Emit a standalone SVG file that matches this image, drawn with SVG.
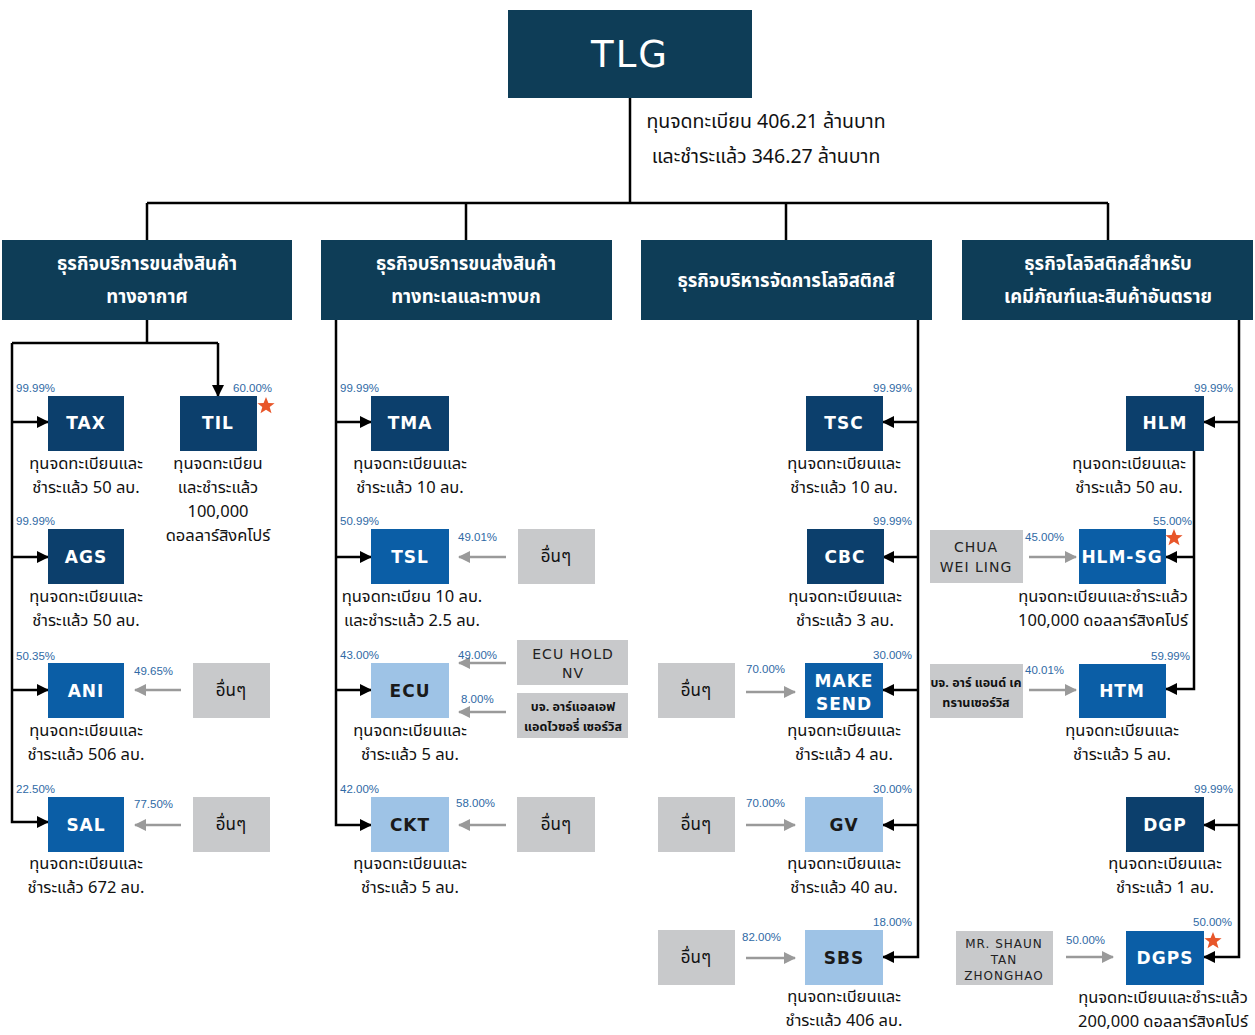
<svg xmlns="http://www.w3.org/2000/svg" width="1255" height="1035" viewBox="0 0 1255 1035">
<defs>
<style>
.hdr{fill:#0e3d57}
.dk{fill:#0c3f6c}
.md{fill:#0b5ea6}
.lt{fill:#9ec3e6}
.gy{fill:#c8c9cb}
.ln{stroke:#000;stroke-width:2.5;fill:none}
.gl{stroke:#9a9a9a;stroke-width:2.5;fill:none}
.th{font-family:"Noto Sans Thai","Noto Sans","Liberation Sans",sans-serif;font-size:16.5px;fill:#111;text-anchor:middle}
.top{font-size:19.5px}
.cat{font-family:"Noto Sans Thai","Noto Sans","Liberation Sans",sans-serif;font-size:18.5px;font-weight:bold;fill:#fff;text-anchor:middle}
.nw{font-family:"DejaVu Sans","Liberation Sans",sans-serif;font-size:17px;font-weight:bold;fill:#fff;text-anchor:middle;letter-spacing:1px}
.nb{font-family:"DejaVu Sans","Liberation Sans",sans-serif;font-size:17px;font-weight:bold;fill:#1a1a1a;text-anchor:middle;letter-spacing:1px}
.pc{font-family:"Liberation Sans",sans-serif;font-size:11.5px;fill:#2f6aa5}
.pr{font-family:"Liberation Sans",sans-serif;font-size:11.5px;fill:#2f6aa5;text-anchor:end}
.ot{font-family:"Noto Sans Thai","Noto Sans","Liberation Sans",sans-serif;font-size:17px;fill:#111;text-anchor:middle}
.gb{font-family:"Noto Sans Thai","Noto Sans","Liberation Sans",sans-serif;font-size:12.5px;font-weight:bold;fill:#111;text-anchor:middle}
.ge{font-family:"DejaVu Sans","Liberation Sans",sans-serif;font-size:14px;fill:#222;text-anchor:middle;letter-spacing:1px}
.gs{font-family:"DejaVu Sans","Liberation Sans",sans-serif;font-size:12px;fill:#222;text-anchor:middle;letter-spacing:1px}
.star{fill:#e8562a}
</style>
<marker id="ab" markerWidth="12" markerHeight="12" refX="11" refY="6" orient="auto" markerUnits="userSpaceOnUse" viewBox="0 0 12 12">
<path d="M0,0 L12,6 L0,12 z" fill="#000"/>
</marker>
<marker id="ag" markerWidth="12" markerHeight="12" refX="11" refY="6" orient="auto" markerUnits="userSpaceOnUse" viewBox="0 0 12 12">
<path d="M0,0 L12,6 L0,12 z" fill="#9a9a9a"/>
</marker>
<polygon id="st" points="0,-9 2.4,-2.9 8.6,-2.8 3.7,1.1 5.5,7.3 0,3.7 -5.5,7.3 -3.7,1.1 -8.6,-2.8 -2.4,-2.9"/>
</defs>
<rect width="1255" height="1035" fill="#fff"/>

<g id="connectors">
<path class="ln" d="M630,98 V203 M147,203 H1108 M147,203 V240 M466,203 V240 M786,203 V240 M1108,203 V240"/>
<path class="ln" d="M147,320 V343 M12,343 H218"/>
<path class="ln" d="M218,343 V396" marker-end="url(#ab)"/>
<path class="ln" d="M12,343 V822 H48" marker-end="url(#ab)"/>
<path class="ln" d="M12,422 H48" marker-end="url(#ab)"/>
<path class="ln" d="M12,557 H48" marker-end="url(#ab)"/>
<path class="ln" d="M12,690 H48" marker-end="url(#ab)"/>
<path class="gl" d="M181,690 H135" marker-end="url(#ag)"/>
<path class="gl" d="M181,825 H135" marker-end="url(#ag)"/>
<path class="ln" d="M336,320 V825 H371" marker-end="url(#ab)"/>
<path class="ln" d="M336,422 H371" marker-end="url(#ab)"/>
<path class="ln" d="M336,557 H371" marker-end="url(#ab)"/>
<path class="ln" d="M336,690 H371" marker-end="url(#ab)"/>
<path class="gl" d="M506,557 H459" marker-end="url(#ag)"/>
<path class="gl" d="M506,663 H459" marker-end="url(#ag)"/>
<path class="gl" d="M506,712 H459" marker-end="url(#ag)"/>
<path class="gl" d="M506,825 H459" marker-end="url(#ag)"/>
<path class="ln" d="M918,320 V957 H883" marker-end="url(#ab)"/>
<path class="ln" d="M918,422 H883" marker-end="url(#ab)"/>
<path class="ln" d="M918,557 H883" marker-end="url(#ab)"/>
<path class="ln" d="M918,690 H883" marker-end="url(#ab)"/>
<path class="ln" d="M918,825 H883" marker-end="url(#ab)"/>
<path class="gl" d="M746,692 H795" marker-end="url(#ag)"/>
<path class="gl" d="M746,825 H795" marker-end="url(#ag)"/>
<path class="gl" d="M746,958 H795" marker-end="url(#ag)"/>
<path class="ln" d="M1239,320 V957 H1204" marker-end="url(#ab)"/>
<path class="ln" d="M1239,422 H1204" marker-end="url(#ab)"/>
<path class="ln" d="M1239,825 H1204" marker-end="url(#ab)"/>
<path class="ln" d="M1194,451 V689 H1166" marker-end="url(#ab)"/>
<path class="ln" d="M1194,557 H1166" marker-end="url(#ab)"/>
<path class="gl" d="M1029,557 H1076" marker-end="url(#ag)"/>
<path class="gl" d="M1029,690 H1076" marker-end="url(#ag)"/>
<path class="gl" d="M1066,957 H1113" marker-end="url(#ag)"/>
</g>

<g id="TLG">
<rect class="hdr" x="508" y="10" width="244" height="88"/>
<text x="630" y="67" font-family="DejaVu Sans,Liberation Sans,sans-serif" font-size="37" fill="#fff" text-anchor="middle" letter-spacing="2">TLG</text>
<text class="th top" x="766" y="128">ทุนจดทะเบียน 406.21 ล้านบาท</text>
<text class="th top" x="766" y="163">และชำระแล้ว 346.27 ล้านบาท</text>
</g>

<g id="cat1"><rect class="hdr" x="2" y="240" width="290" height="80"/>
<text class="cat" x="147" y="270">ธุรกิจบริการขนส่งสินค้า</text><text class="cat" x="147" y="303">ทางอากาศ</text></g>
<g id="cat2"><rect class="hdr" x="321" y="240" width="291" height="80"/>
<text class="cat" x="466" y="270">ธุรกิจบริการขนส่งสินค้า</text><text class="cat" x="466" y="303">ทางทะเลและทางบก</text></g>
<g id="cat3"><rect class="hdr" x="641" y="240" width="291" height="80"/>
<text class="cat" x="786" y="287">ธุรกิจบริหารจัดการโลจิสติกส์</text></g>
<g id="cat4"><rect class="hdr" x="962" y="240" width="291" height="80"/>
<text class="cat" x="1108" y="270">ธุรกิจโลจิสติกส์สำหรับ</text><text class="cat" x="1108" y="303">เคมีภัณฑ์และสินค้าอันตราย</text></g>

<g id="TAX"><rect class="dk" x="48" y="396" width="76" height="55"/><text class="nw" x="86" y="429">TAX</text>
<text class="pc" x="16" y="392">99.99%</text>
<text class="th" x="86" y="469">ทุนจดทะเบียนและ</text><text class="th" x="86" y="493">ชำระแล้ว 50 ลบ.</text></g>
<g id="TIL"><rect class="dk" x="180" y="396" width="77" height="55"/><text class="nw" x="218" y="429">TIL</text>
<text class="pc" x="233" y="392">60.00%</text><use href="#st" class="star" x="266" y="406"/>
<text class="th" x="218" y="469">ทุนจดทะเบียน</text><text class="th" x="218" y="493">และชำระแล้ว</text>
<text class="th" x="218" y="517">100,000</text><text class="th" x="218" y="541">ดอลลาร์สิงคโปร์</text></g>
<g id="AGS"><rect class="dk" x="48" y="529" width="76" height="55"/><text class="nw" x="86" y="563">AGS</text>
<text class="pc" x="16" y="525">99.99%</text>
<text class="th" x="86" y="602">ทุนจดทะเบียนและ</text><text class="th" x="86" y="626">ชำระแล้ว 50 ลบ.</text></g>
<g id="ANI"><rect class="md" x="48" y="663" width="76" height="55"/><text class="nw" x="86" y="697">ANI</text>
<text class="pc" x="16" y="660">50.35%</text>
<text class="th" x="86" y="736">ทุนจดทะเบียนและ</text><text class="th" x="86" y="760">ชำระแล้ว 506 ลบ.</text></g>
<g id="ANI-other"><rect class="gy" x="193" y="663" width="77" height="55"/><text class="ot" x="231" y="696">อื่นๆ</text>
<text class="pc" x="134" y="675">49.65%</text></g>
<g id="SAL"><rect class="md" x="48" y="797" width="76" height="55"/><text class="nw" x="86" y="831">SAL</text>
<text class="pc" x="16" y="793">22.50%</text>
<text class="th" x="86" y="869">ทุนจดทะเบียนและ</text><text class="th" x="86" y="893">ชำระแล้ว 672 ลบ.</text></g>
<g id="SAL-other"><rect class="gy" x="193" y="797" width="77" height="55"/><text class="ot" x="231" y="830">อื่นๆ</text>
<text class="pc" x="134" y="808">77.50%</text></g>

<g id="TMA"><rect class="dk" x="371" y="396" width="78" height="55"/><text class="nw" x="410" y="429">TMA</text>
<text class="pc" x="340" y="392">99.99%</text>
<text class="th" x="410" y="469">ทุนจดทะเบียนและ</text><text class="th" x="410" y="493">ชำระแล้ว 10 ลบ.</text></g>
<g id="TSL"><rect class="md" x="371" y="529" width="78" height="55"/><text class="nw" x="410" y="563">TSL</text>
<text class="pc" x="340" y="525">50.99%</text>
<text class="th" x="412" y="602">ทุนจดทะเบียน 10 ลบ.</text><text class="th" x="412" y="626">และชำระแล้ว 2.5 ลบ.</text></g>
<g id="TSL-other"><rect class="gy" x="518" y="529" width="77" height="55"/><text class="ot" x="556" y="562">อื่นๆ</text>
<text class="pc" x="458" y="541">49.01%</text></g>
<g id="ECU"><rect class="lt" x="371" y="663" width="78" height="55"/><text class="nb" x="410" y="697">ECU</text>
<text class="pc" x="340" y="659">43.00%</text>
<text class="th" x="410" y="736">ทุนจดทะเบียนและ</text><text class="th" x="410" y="760">ชำระแล้ว 5 ลบ.</text></g>
<g id="ECU-HOLD"><rect class="gy" x="517" y="640" width="111" height="45"/>
<text class="ge" x="573" y="659">ECU HOLD</text><text class="ge" x="573" y="678">NV</text>
<text class="pc" x="458" y="659">49.00%</text></g>
<g id="RLF"><rect class="gy" x="517" y="693" width="111" height="45"/>
<text class="gb" x="573" y="711">บจ. อาร์แอลเอฟ</text><text class="gb" x="573" y="731">แอดไวซอรี่ เซอร์วิส</text>
<text class="pc" x="461" y="703">8.00%</text></g>
<g id="CKT"><rect class="lt" x="371" y="797" width="78" height="55"/><text class="nb" x="410" y="831">CKT</text>
<text class="pc" x="340" y="793">42.00%</text>
<text class="th" x="410" y="869">ทุนจดทะเบียนและ</text><text class="th" x="410" y="893">ชำระแล้ว 5 ลบ.</text></g>
<g id="CKT-other"><rect class="gy" x="517" y="797" width="78" height="55"/><text class="ot" x="556" y="830">อื่นๆ</text>
<text class="pc" x="456" y="807">58.00%</text></g>

<g id="TSC"><rect class="dk" x="806" y="396" width="77" height="55"/><text class="nw" x="844" y="429">TSC</text>
<text class="pr" x="912" y="392">99.99%</text>
<text class="th" x="844" y="469">ทุนจดทะเบียนและ</text><text class="th" x="844" y="493">ชำระแล้ว 10 ลบ.</text></g>
<g id="CBC"><rect class="dk" x="807" y="529" width="77" height="55"/><text class="nw" x="845" y="563">CBC</text>
<text class="pr" x="912" y="525">99.99%</text>
<text class="th" x="845" y="602">ทุนจดทะเบียนและ</text><text class="th" x="845" y="626">ชำระแล้ว 3 ลบ.</text></g>
<g id="MAKESEND"><rect class="md" x="805" y="663" width="78" height="55"/>
<text class="nw" x="844" y="687">MAKE</text><text class="nw" x="844" y="710">SEND</text>
<text class="pr" x="912" y="659">30.00%</text>
<text class="th" x="844" y="736">ทุนจดทะเบียนและ</text><text class="th" x="844" y="760">ชำระแล้ว 4 ลบ.</text></g>
<g id="MAKESEND-other"><rect class="gy" x="658" y="663" width="77" height="55"/><text class="ot" x="696" y="696">อื่นๆ</text>
<text class="pc" x="746" y="673">70.00%</text></g>
<g id="GV"><rect class="lt" x="805" y="797" width="78" height="55"/><text class="nb" x="844" y="831">GV</text>
<text class="pr" x="912" y="793">30.00%</text>
<text class="th" x="844" y="869">ทุนจดทะเบียนและ</text><text class="th" x="844" y="893">ชำระแล้ว 40 ลบ.</text></g>
<g id="GV-other"><rect class="gy" x="658" y="797" width="77" height="55"/><text class="ot" x="696" y="830">อื่นๆ</text>
<text class="pc" x="746" y="807">70.00%</text></g>
<g id="SBS"><rect class="lt" x="805" y="930" width="78" height="55"/><text class="nb" x="844" y="964">SBS</text>
<text class="pr" x="912" y="926">18.00%</text>
<text class="th" x="844" y="1002">ทุนจดทะเบียนและ</text><text class="th" x="844" y="1026">ชำระแล้ว 406 ลบ.</text></g>
<g id="SBS-other"><rect class="gy" x="658" y="930" width="77" height="55"/><text class="ot" x="696" y="963">อื่นๆ</text>
<text class="pc" x="742" y="941">82.00%</text></g>

<g id="HLM"><rect class="dk" x="1126" y="396" width="78" height="55"/><text class="nw" x="1165" y="429">HLM</text>
<text class="pr" x="1233" y="392">99.99%</text>
<text class="th" x="1129" y="469">ทุนจดทะเบียนและ</text><text class="th" x="1129" y="493">ชำระแล้ว 50 ลบ.</text></g>
<g id="HLM-SG"><rect class="md" x="1079" y="529" width="87" height="55"/><text class="nw" x="1122" y="563">HLM-SG</text>
<text class="pr" x="1192" y="525">55.00%</text><use href="#st" class="star" x="1174" y="538"/>
<text class="th" x="1103" y="602">ทุนจดทะเบียนและชำระแล้ว</text><text class="th" x="1103" y="626">100,000 ดอลลาร์สิงคโปร์</text></g>
<g id="CHUA"><rect class="gy" x="930" y="530" width="93" height="53"/>
<text class="ge" x="976" y="552">CHUA</text><text class="ge" x="976" y="572">WEI LING</text>
<text class="pc" x="1025" y="541">45.00%</text></g>
<g id="HTM"><rect class="md" x="1079" y="664" width="87" height="54"/><text class="nw" x="1122" y="697">HTM</text>
<text class="pr" x="1190" y="660">59.99%</text>
<text class="th" x="1122" y="736">ทุนจดทะเบียนและ</text><text class="th" x="1122" y="760">ชำระแล้ว 5 ลบ.</text></g>
<g id="RK"><rect class="gy" x="930" y="664" width="93" height="54"/>
<text class="gb" x="976" y="687">บจ. อาร์ แอนด์ เค</text><text class="gb" x="976" y="707">ทรานเซอร์วิส</text>
<text class="pc" x="1025" y="674">40.01%</text></g>
<g id="DGP"><rect class="dk" x="1126" y="797" width="78" height="55"/><text class="nw" x="1165" y="831">DGP</text>
<text class="pr" x="1233" y="793">99.99%</text>
<text class="th" x="1165" y="869">ทุนจดทะเบียนและ</text><text class="th" x="1165" y="893">ชำระแล้ว 1 ลบ.</text></g>
<g id="DGPS"><rect class="md" x="1126" y="931" width="78" height="54"/><text class="nw" x="1165" y="964">DGPS</text>
<text class="pr" x="1232" y="926">50.00%</text><use href="#st" class="star" x="1213" y="941"/>
<text class="th" x="1163" y="1003">ทุนจดทะเบียนและชำระแล้ว</text><text class="th" x="1163" y="1027">200,000 ดอลลาร์สิงคโปร์</text></g>
<g id="SHAUN"><rect class="gy" x="956" y="931" width="97" height="54"/>
<text class="gs" x="1004" y="948">MR. SHAUN</text><text class="gs" x="1004" y="964">TAN</text><text class="gs" x="1004" y="980">ZHONGHAO</text>
<text class="pc" x="1066" y="944">50.00%</text></g>
</svg>
